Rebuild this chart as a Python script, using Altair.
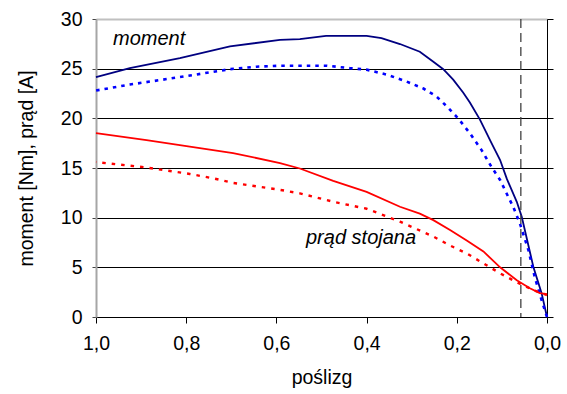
import altair as alt
import pandas as pd

# ---- data ----
slip_moment = [1.0, 0.925, 0.814, 0.703, 0.592, 0.548, 0.49, 0.40, 0.367, 0.326, 0.282, 0.252,
               0.23, 0.208, 0.186, 0.171, 0.149, 0.123, 0.104, 0.089, 0.067, 0.056, 0.03, 0.012, 0.0]
moment = [24.15, 25.06, 26.07, 27.24, 27.9, 27.98, 28.3, 28.3, 28.08, 27.48, 26.7, 25.7,
          24.95, 23.9, 22.6, 21.6, 19.9, 17.5, 15.8, 13.9, 11.6, 10.1, 5.0, 2.4, 0.0]

slip_moment_dot = [1.0, 0.925, 0.814, 0.703, 0.644, 0.592, 0.489, 0.437, 0.40, 0.355, 0.311, 0.274,
                   0.245, 0.222, 0.197, 0.171, 0.145, 0.123, 0.104, 0.086, 0.075, 0.06, 0.041, 0.027,
                   0.012, 0.0]
moment_dot = [22.8, 23.4, 24.15, 24.95, 25.2, 25.3, 25.3, 25.05, 24.9, 24.4, 23.7, 23.0,
              22.2, 21.2, 20.0, 18.5, 16.8, 15.1, 13.8, 12.1, 11.1, 9.4, 6.7, 4.0, 1.7, 0.0]

slip_current = [1.0, 0.888, 0.792, 0.696, 0.592, 0.548, 0.474, 0.40, 0.326, 0.282, 0.252, 0.215,
                0.178, 0.141, 0.104, 0.067, 0.038, 0.016, 0.0]
current = [18.5, 17.8, 17.15, 16.5, 15.5, 14.95, 13.7, 12.6, 11.1, 10.4, 9.75, 8.75,
           7.7, 6.6, 5.0, 3.7, 2.9, 2.4, 2.3]

slip_current_dot = [1.0, 0.888, 0.792, 0.74, 0.696, 0.592, 0.548, 0.474, 0.40, 0.326, 0.252, 0.215,
                    0.178, 0.141, 0.104, 0.067, 0.03, 0.0]
current_dot = [15.6, 15.05, 14.4, 13.96, 13.5, 12.8, 12.45, 11.6, 10.9, 9.6, 8.1, 7.2,
               6.4, 5.4, 4.4, 3.5, 2.7, 2.2]

x_ticks = [0.0, 0.2, 0.4, 0.6, 0.8, 1.0]
y_ticks = [0, 5, 10, 15, 20, 25, 30]
marker_slip = [0.058]
annotations = ["moment", "prąd stojana"]

FONT = "Liberation Sans"
FS = 19.5

xscale = alt.Scale(domain=[0, 1], reverse=True, nice=False, zero=False)
yscale = alt.Scale(domain=[0, 30], nice=False)


def frame(s, v):
    return pd.DataFrame({"s": s, "v": v})


x_bottom = alt.Axis(
    orient="bottom", values=x_ticks, title="poślizg",
    labelExpr="replace(format(datum.value, '.1f'), '.', ',')",
    domainColor="black", domainWidth=1, tickColor="black", tickSize=6, tickWidth=1,
    labelFlush=False, labelOverlap=False, grid=False,
    labelFont=FONT, labelFontSize=FS, labelColor="black", labelPadding=11,
    titleFont=FONT, titleFontSize=FS, titleFontWeight="normal", titleColor="black",
    titlePadding=16,
)
y_left = alt.Axis(
    orient="left", values=y_ticks, title="moment [Nm], prąd [A]",
    domainColor="#a6a6a6", domainWidth=2, tickColor="#444444", tickSize=4, tickWidth=1,
    labelFlush=False, labelOverlap=False,
    grid=True, gridColor="black", gridWidth=1,
    gridOpacity={"condition": {"test": "datum.value == 0 || datum.value == 30", "value": 0}, "value": 1},
    labelFont=FONT, labelFontSize=FS, labelColor="black", labelPadding=10,
    titleFont=FONT, titleFontSize=FS, titleFontWeight="normal", titleColor="black",
    titlePadding=24,
)
x_top = alt.Axis(orient="top", values=x_ticks, title=None, labels=False, ticks=False, grid=False,
                 domainColor="#c0c0c0", domainWidth=2)
y_right = alt.Axis(orient="right", values=y_ticks, title=None, labels=False, grid=False,
                   domainColor="black", domainWidth=1, tickColor="black", tickSize=6, tickWidth=1)

moment_line = alt.Chart(frame(slip_moment, moment)).mark_line(
    color="#000080", strokeWidth=1.8
).encode(
    x=alt.X("s:Q", scale=xscale, axis=x_bottom),
    y=alt.Y("v:Q", scale=yscale, axis=y_left),
    order="s:Q",
)

moment_dot_line = alt.Chart(frame(slip_moment_dot, moment_dot)).mark_line(
    color="#0000FF", strokeWidth=2.6, strokeDash=[3.5, 5]
).encode(
    x=alt.X("s:Q", scale=xscale, axis=x_top),
    y=alt.Y("v:Q", scale=yscale, axis=y_right),
    order="s:Q",
)

current_line = alt.Chart(frame(slip_current, current)).mark_line(
    color="#FF0000", strokeWidth=1.8
).encode(
    x=alt.X("s:Q", scale=xscale, axis=None),
    y=alt.Y("v:Q", scale=yscale, axis=None),
    order="s:Q",
)

current_dot_line = alt.Chart(frame(slip_current_dot, current_dot)).mark_line(
    color="#FF0000", strokeWidth=2.4, strokeDash=[3.5, 6]
).encode(
    x=alt.X("s:Q", scale=xscale, axis=None),
    y=alt.Y("v:Q", scale=yscale, axis=None),
    order="s:Q",
)

marker = alt.Chart(pd.DataFrame({"s": marker_slip})).mark_rule(
    color="#404040", strokeWidth=1.3, strokeDash=[9, 5]
).encode(x=alt.X("s:Q", scale=xscale, axis=None))

label_moment = alt.Chart(pd.DataFrame({"t": [annotations[0]]})).mark_text(
    align="left", baseline="alphabetic", font=FONT, fontSize=20, fontStyle="italic",
    color="black", x=17, y=26
).encode(text="t:N")

label_current = alt.Chart(pd.DataFrame({"t": [annotations[1]]})).mark_text(
    align="left", baseline="alphabetic", font=FONT, fontSize=20, fontStyle="italic",
    color="black", x=210, y=225
).encode(text="t:N")

chart = alt.layer(
    moment_line, moment_dot_line, current_line, current_dot_line, marker,
    label_moment, label_current,
).resolve_axis(
    x="independent", y="independent"
).properties(
    width=451, height=298,
    autosize=alt.AutoSizeParams(type="none"),
    padding={"left": 96, "top": 19, "right": 20, "bottom": 77},
).configure_view(stroke=None).configure(background="white")

chart.save("out.html", embed_options={"renderer": "svg", "actions": False})
